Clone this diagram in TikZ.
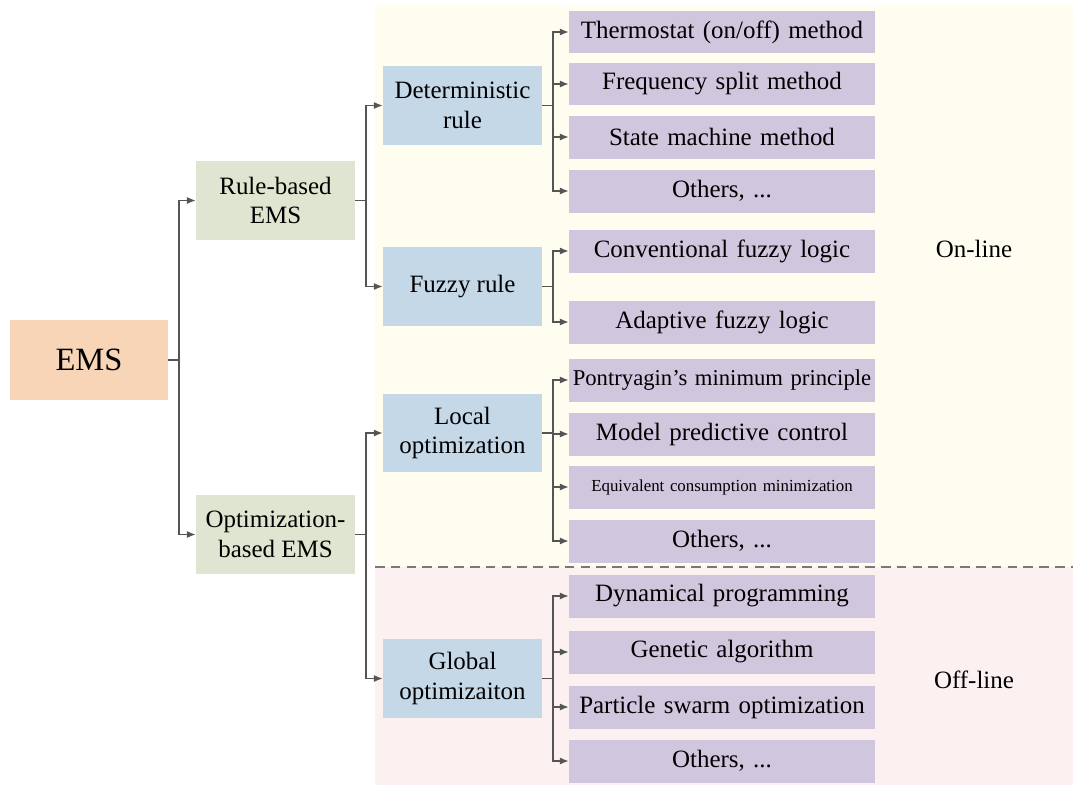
\documentclass[tikz,border=0pt]{standalone}
\usepackage{fontspec}
\setmainfont{Liberation Serif}
\usetikzlibrary{arrows.meta}
\usetikzlibrary{positioning}
\definecolor{emspeach}{RGB}{248,213,183}
\definecolor{emsgreen}{RGB}{223,229,208}
\definecolor{emsblue}{RGB}{197,216,232}
\definecolor{emspurple}{RGB}{208,198,222}
\definecolor{onyellow}{RGB}{255,252,240}
\definecolor{offpink}{RGB}{253,240,241}
\definecolor{linkgray}{RGB}{85,85,85}
\definecolor{dashgray}{RGB}{120,120,120}

\tikzset{
  textsize/.style={font=\fontsize{14.2}{17}\selectfont},
  rootbox/.style={fill=emspeach, inner sep=0pt, minimum width=3.16cm, minimum height=1.6cm, font=\fontsize{18.5}{22}\selectfont},
  typebox/.style={fill=emsgreen, inner sep=0pt, minimum width=3.18cm, minimum height=1.58cm, align=center, textsize},
  classbox/.style={fill=emsblue, inner sep=0pt, minimum width=3.18cm, minimum height=1.58cm, align=center, textsize},
  methodbox/.style={fill=emspurple, inner sep=0pt, text width=6.12cm, align=center, minimum height=0.86cm, textsize},
  link/.style={draw=linkgray, line width=0.7pt}
}

\begin{document}
\begin{tikzpicture}[>={Latex[length=5pt,width=4pt]}, x=0.02cm, y=-0.02cm]
      \useasboundingbox (0,0) rectangle (1073,785);

      % on-line / off-line areas
      \fill[onyellow] (375,5) rectangle (1073,567);
      \fill[offpink]  (375,567) rectangle (1073,785);
      \draw[dashgray, line width=1.1pt, dash pattern=on 5.5pt off 3.5pt] (375,567) -- (1073,567);
      \node[textsize] (online)  at (974,249) {On-line};
      \node[textsize] (offline) at (974,680) {Off-line};

      % root and types
      \node[rootbox] (ems) at (89,360) {EMS};
      \node[typebox] (rule) at (275.5,200.5) {Rule-based\\EMS};
      \node[typebox] (opt)  at (275.5,534.5) {Optimization-\\based EMS};

      % classes
      \node[classbox] (det)    at (462.5,105.5) {Deterministic\\rule};
      \node[classbox] (fuzzy)  at (462.5,286.5) {Fuzzy rule};
      \node[classbox] (local)  at (462.5,433)   {Local\\optimization};
      \node[classbox] (global) at (462.5,678.5) {Global\\optimizaiton};

      % methods
      \node[methodbox] (det1) at (722,32)  {Thermostat (on/off) method};
      \node[methodbox] (det2) at (722,84)  {Frequency split method};
      \node[methodbox] (det3) at (722,137) {State machine method};
      \node[methodbox] (det4) at (722,191) {Others, ...};
      \node[methodbox] (fuz1) at (722,251) {Conventional fuzzy logic};
      \node[methodbox] (fuz2) at (722,322) {Adaptive fuzzy logic};
      \node[methodbox, font=\fontsize{12.9}{15}\selectfont] (loc1) at (722,380) {Pontryagin’s minimum principle};
      \node[methodbox] (loc2) at (722,434) {Model predictive control};
      \node[methodbox, font=\fontsize{9.6}{11}\selectfont] (loc3) at (722,487) {Equivalent consumption minimization};
      \node[methodbox] (loc4) at (722,541) {Others, ...};
      \node[methodbox] (glo1) at (722,596) {Dynamical programming};
      \node[methodbox] (glo2) at (722,652) {Genetic algorithm};
      \node[methodbox] (glo3) at (722,707) {Particle swarm optimization};
      \node[methodbox] (glo4) at (722,761) {Others, ...};

      % junctions
      \coordinate (j0) at (179,360);
      \coordinate (j1) at (366,200.5);
      \coordinate (j2) at (366,534.5);
      \coordinate (j3) at (553,105.5);
      \coordinate (j4) at (553,286.5);
      \coordinate (j5) at (553,433);
      \coordinate (j6) at (553,678.5);

      \draw[link] (ems) -- (j0);
      \draw[link,->] (j0) |- (rule);
      \draw[link,->] (j0) |- (opt);

      \draw[link] (rule) -- (j1);
      \draw[link,->] (j1) |- (det);
      \draw[link,->] (j1) |- (fuzzy);

      \draw[link] (opt) -- (j2);
      \draw[link,->] (j2) |- (local);
      \draw[link,->] (j2) |- (global);

      \draw[link] (det) -- (j3);
      \foreach \m in {det1,det2,det3,det4}
        \draw[link,->] (j3) |- (\m);

      \draw[link] (fuzzy) -- (j4);
      \foreach \m in {fuz1,fuz2}
        \draw[link,->] (j4) |- (\m);

      \draw[link] (local) -- (j5);
      \foreach \m in {loc1,loc2,loc3,loc4}
        \draw[link,->] (j5) |- (\m);

      \draw[link] (global) -- (j6);
      \foreach \m in {glo1,glo2,glo3,glo4}
        \draw[link,->] (j6) |- (\m);
\end{tikzpicture}
\end{document}
